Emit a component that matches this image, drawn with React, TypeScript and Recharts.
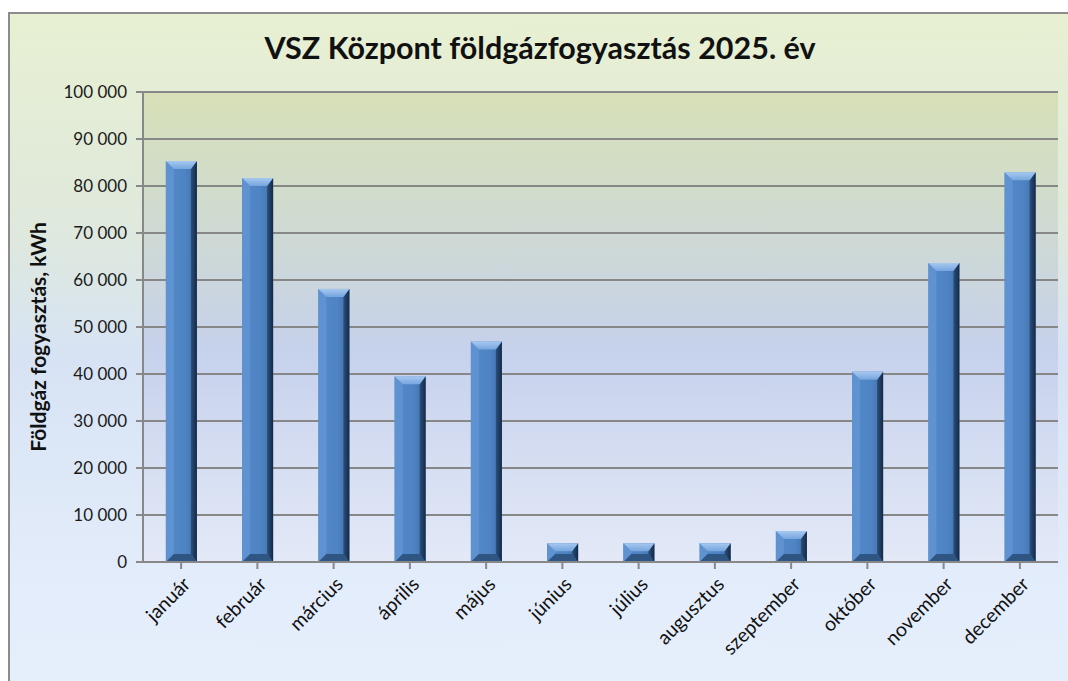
import React from "react";
import { BarChart, Bar, XAxis, YAxis, CartesianGrid, Label } from "recharts";

// havi földgázfogyasztás, kWh
const MONTHS = [
  "január", "február", "március", "április", "május", "június",
  "július", "augusztus", "szeptember", "október", "november", "december",
];
const CONSUMPTION = [85300, 81700, 58100, 39500, 46900, 4000, 4000, 4000, 6600, 40500, 63600, 82900];
const Y_TICKS = [0, 10000, 20000, 30000, 40000, 50000, 60000, 70000, 80000, 90000, 100000];

const TITLE = "VSZ Központ földgázfogyasztás 2025. év";
const Y_LABEL = "Földgáz fogyasztás, kWh";

const data = MONTHS.map((m, i) => ({ month: m, value: CONSUMPTION[i] }));

const FONT = "Lato, 'Open Sans', sans-serif";

const fmt = (v: number) => {
  const s = String(Math.round(v));
  return s.replace(/\B(?=(\d{3})+(?!\d))/g, " ");
};

// bevelled bar like the office "3D" bar style
function BevelBar(props: any) {
  const { x, y, width, height } = props;
  if (height <= 0) return null;
  const b = Math.min(8, height / 2, width / 3);
  const r = Math.min(6, height / 2, width / 3);
  return (
    <g>
      <rect x={x} y={y} width={width} height={height} fill="url(#barFace)" />
      {/* left edge */}
      <polygon points={`${x},${y} ${x + b},${y + b} ${x + b},${y + height - b} ${x},${y + height}`} fill="#5f92d0" />
      {/* right edge */}
      <polygon
        points={`${x + width},${y} ${x + width - r},${y + b} ${x + width - r},${y + height - b} ${x + width},${y + height}`}
        fill="url(#barRight)"
      />
      {/* top */}
      <polygon points={`${x},${y} ${x + width},${y} ${x + width - r},${y + b} ${x + b},${y + b}`} fill="url(#barTop)" />
      {/* bottom */}
      <polygon
        points={`${x},${y + height} ${x + width},${y + height} ${x + width - r},${y + height - b} ${x + b},${y + height - b}`}
        fill="#2f5583"
      />
    </g>
  );
}

function MonthTick(props: any) {
  const { x, y, payload } = props;
  return (
    <g transform={`translate(${x + 7},${y + 11})`}>
      <text
        transform="rotate(-45)"
        textAnchor="end"
        dominantBaseline="middle"
        fontSize={19.5}
        fontFamily={FONT}
        fill="#111"
      >
        {payload.value}
      </text>
    </g>
  );
}

export default function App() {
  return (
    <div style={{ position: "fixed", left: 0, top: 0, width: 1068, height: 681, overflow: "hidden", background: "#fff" }}>
      <svg width={0} height={0} style={{ position: "absolute" }}>
        <defs>
          <linearGradient id="plotBg" x1="0" y1="0" x2="0" y2="1">
            <stop offset="0%" stopColor="#d7e0b7" />
            <stop offset="25%" stopColor="#d0dbcf" />
            <stop offset="55%" stopColor="#c6d1ec" />
            <stop offset="100%" stopColor="#e3e9f7" />
          </linearGradient>
          <linearGradient id="barFace" x1="0" y1="0" x2="1" y2="0">
            <stop offset="0%" stopColor="#5289c9" />
            <stop offset="60%" stopColor="#4f84c4" />
            <stop offset="100%" stopColor="#3f6ea8" />
          </linearGradient>
          <linearGradient id="barRight" x1="0" y1="0" x2="1" y2="0">
            <stop offset="0%" stopColor="#2c4f7c" />
            <stop offset="100%" stopColor="#142a45" />
          </linearGradient>
          <linearGradient id="barTop" x1="0" y1="0" x2="0" y2="1">
            <stop offset="0%" stopColor="#a6c8f0" />
            <stop offset="100%" stopColor="#76a5de" />
          </linearGradient>
        </defs>
      </svg>

      <div
        style={{
          position: "absolute",
          left: 8,
          top: 12,
          width: 1080,
          height: 690,
          borderLeft: "2px solid #8c8c8c",
          borderTop: "2px solid #8c8c8c",
          background: "linear-gradient(to bottom, #e8f0d2 0%, #dfe9dc 30%, #d7e3f4 50%, #e4edfb 85%, #e6eefb 100%)",
        }}
      />

      <div
        style={{
          position: "absolute",
          left: 0,
          top: 29,
          width: 1068,
          textAlign: "center",
          paddingLeft: 6,
          fontFamily: FONT,
          fontWeight: 700,
          fontSize: 30.5,
          color: "#111",
        }}
      >
        {TITLE}
      </div>

      <div style={{ position: "absolute", left: 0, top: 0 }}>
        <BarChart
          width={1068}
          height={681}
          data={data}
          margin={{ top: 92, right: 10, left: 0, bottom: 0 }}
          barCategoryGap="30%"
        >
          <CartesianGrid
            vertical={false}
            stroke="#878787"
            strokeWidth={2}
            fill="url(#plotBg)"
            fillOpacity={1}
          />
          <XAxis
            dataKey="month"
            stroke="#888"
            strokeWidth={2}
            tickSize={7}
            interval={0}
            tick={<MonthTick />}
            height={119}
          />
          <YAxis
            domain={[0, 100000]}
            ticks={Y_TICKS}
            tickFormatter={(v) => fmt(Number(v))}
            stroke="#888"
            strokeWidth={2}
            tickSize={7}
            tickMargin={9}
            width={143}
            tick={{ fontSize: 17, fontFamily: FONT, fill: "#1a1a1a" }}
          >
            <Label
              content={(p: any) => {
                const vb = p.viewBox || {};
                const cx = vb.x + 41;
                const cy = vb.y + vb.height / 2 + 10;
                return (
                  <text
                    x={cx}
                    y={cy}
                    transform={`rotate(-90, ${cx}, ${cy})`}
                    textAnchor="middle"
                    dominantBaseline="middle"
                    fontSize={21}
                    fontWeight={700}
                    fontFamily={FONT}
                    fill="#111"
                  >
                    {Y_LABEL}
                  </text>
                );
              }}
            />
          </YAxis>
          <Bar dataKey="value" shape={<BevelBar />} isAnimationActive={false} />
        </BarChart>
      </div>
    </div>
  );
}
